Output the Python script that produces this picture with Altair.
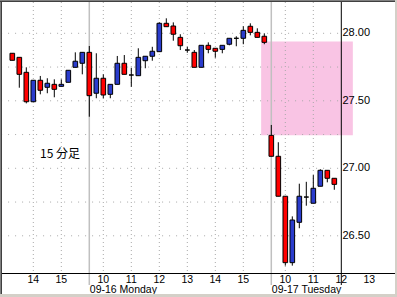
import altair as alt
import pandas as pd

# 15-minute candles (index 0..46)
opens  = [27.852, 27.822, 27.711, 27.493, 27.652, 27.600, 27.622, 27.607, 27.637, 27.748, 27.778,
          27.859, 27.556, 27.667, 27.548, 27.622, 27.778, 27.691, 27.686, 27.797, 27.830, 27.864,
          28.074, 28.054, 27.970, 27.876, 27.859, 27.748, 27.911, 27.889, 27.881, 27.919, 27.963,
          27.963, 28.052, 28.007, 27.978,
          27.244, 27.089, 26.793, 26.301, 26.600, 26.787, 26.741, 26.867, 26.985, 26.926]
highs  = [27.852, 27.822, 27.748, 27.652, 27.684, 27.667, 27.659, 27.659, 27.726, 27.859, 27.859,
          27.906, 27.852, 27.696, 27.622, 27.832, 27.839, 27.745, 27.889, 27.830, 27.900, 28.081,
          28.111, 28.081, 27.993, 27.900, 27.876, 27.911, 27.933, 27.889, 27.911, 27.963, 27.978,
          28.052, 28.074, 28.037, 28.000,
          27.321, 27.193, 26.793, 26.644, 26.886, 26.900, 26.950, 26.993, 26.985, 26.926]
lows   = [27.800, 27.597, 27.481, 27.493, 27.548, 27.556, 27.526, 27.607, 27.637, 27.748, 27.696,
          27.382, 27.519, 27.519, 27.519, 27.622, 27.696, 27.604, 27.686, 27.741, 27.797, 27.864,
          28.049, 27.945, 27.876, 27.856, 27.748, 27.748, 27.852, 27.819, 27.852, 27.911, 27.904,
          27.919, 27.985, 27.970, 27.919,
          27.089, 26.793, 26.279, 26.279, 26.556, 26.723, 26.741, 26.867, 26.896, 26.841]
closes = [27.800, 27.696, 27.493, 27.652, 27.578, 27.630, 27.585, 27.622, 27.726, 27.793, 27.859,
          27.538, 27.667, 27.543, 27.622, 27.778, 27.696, 27.691, 27.822, 27.830, 27.867, 28.074,
          28.049, 27.993, 27.908, 27.876, 27.748, 27.911, 27.881, 27.867, 27.911, 27.963, 27.963,
          28.022, 28.007, 27.970, 27.933,
          27.089, 26.793, 26.301, 26.617, 26.793, 26.787, 26.852, 26.985, 26.926, 26.881]

hour_labels = ["14", "15", "10", "11", "12", "13", "14", "15", "10", "11", "12", "13"]
hour_index = [3, 7, 13, 17, 21, 25, 29, 33, 39, 43, 47, 51]
date_labels = ["09-16 Monday", "09-17 Tuesday"]
date_index = [11, 37]
price_ticks = [26.50, 27.00, 27.50, 28.00]
grid_prices = [26.50, 26.75, 27.00, 27.25, 27.50, 27.75, 28.00]
gap_top = 27.94
gap_bottom = 27.245
gap_x = [35.55, 48.65]
axis_index = 47

W, H = 397, 297
xs = alt.Scale(domain=[-12.3 / 7, (W - 12.3) / 7], nice=False, zero=False)
ys = alt.Scale(domain=[28 - (H - 33.3) / 135.0, 28 + 33.3 / 135.0], nice=False, zero=False)

def direction(i):
    return "up" if closes[i] > opens[i] else ("down" if closes[i] < opens[i] else "flat")

candles = pd.DataFrame({
    "i": list(range(len(opens))),
    "o": opens, "h": highs, "l": lows, "c": closes,
})
candles["dir"] = [direction(i) for i in range(len(opens))]
candles["x0"] = candles["i"] - 0.33
candles["x1"] = candles["i"] + 0.33

X = lambda f: alt.X(f, type="quantitative", scale=xs, axis=None)
Y = lambda f: alt.Y(f, type="quantitative", scale=ys, axis=None)

bg = alt.Chart(pd.DataFrame({"a": [0]})).mark_rect(color="white").encode(
    x=alt.value(0), x2=alt.value(W), y=alt.value(0), y2=alt.value(H))

gap = alt.Chart(pd.DataFrame({"x0": [gap_x[0]], "x1": [gap_x[1]], "t": [gap_top], "b": [gap_bottom]})).mark_rect(
    color="#f9c4e4").encode(x=X("x0"), x2=alt.X2("x1"), y=Y("t"), y2=alt.Y2("b"))

hgrid = alt.Chart(pd.DataFrame({"p": grid_prices, "xa": [-1.6] * len(grid_prices),
                                "xb": [axis_index] * len(grid_prices)})).mark_rule(
    color="#a8a8a8", strokeDash=[1, 6], strokeWidth=1).encode(x=X("xa"), x2=alt.X2("xb"), y=Y("p"))

vg = [i for i in hour_index if i < axis_index]
vgrid = alt.Chart(pd.DataFrame({"i": vg})).mark_rule(
    color="#a8a8a8", strokeDash=[1, 3], strokeWidth=1).encode(x=X("i"), y=alt.value(2), y2=alt.value(273))

daysep = alt.Chart(pd.DataFrame({"i": date_index})).mark_rule(
    color="#c0c0c0", strokeWidth=1.5).encode(x=X("i"), y=alt.value(2), y2=alt.value(285))

paxis = alt.Chart(pd.DataFrame({"i": [axis_index]})).mark_rule(
    color="black", strokeWidth=1).encode(x=X("i"), y=alt.value(2), y2=alt.value(285))

xaxis = alt.Chart(pd.DataFrame({"a": [0]})).mark_rule(color="black", strokeWidth=1.2).encode(
    x=alt.value(2), x2=alt.value(395), y=alt.value(273.5))

wicks = alt.Chart(candles).mark_rule(color="black", strokeWidth=1).encode(
    x=X("i"), y=Y("l"), y2=alt.Y2("h"))

bodies = alt.Chart(candles).mark_rect(stroke="black", strokeWidth=1).encode(
    x=X("x0"), x2=alt.X2("x1"), y=Y("o"), y2=alt.Y2("c"),
    fill=alt.Fill("dir:N", scale=alt.Scale(domain=["up", "down", "flat"],
                                           range=["#2a3ccc", "#ff0000", "#000000"]), legend=None))

hours = alt.Chart(pd.DataFrame({"i": hour_index, "t": hour_labels})).mark_text(
    font="Liberation Sans", fontSize=10.5, align="center", baseline="alphabetic", color="black").encode(
    x=X("i"), y=alt.value(283), text="t:N")

dates = alt.Chart(pd.DataFrame({"i": date_index, "t": date_labels})).mark_text(
    font="Liberation Sans", fontSize=10.5, align="left", baseline="alphabetic", dx=0.5, color="black").encode(
    x=X("i"), y=alt.value(293), text="t:N")

prices = alt.Chart(pd.DataFrame({"p": price_ticks, "t": [f"{p:.2f}" for p in price_ticks]})).mark_text(
    font="Liberation Sans", fontSize=11, align="left", baseline="middle", color="black").encode(
    x=alt.value(342.5), y=Y("p"), text="t:N")

title = alt.Chart(pd.DataFrame({"t": ["15 分足"]})).mark_text(
    font="Noto Sans CJK JP", fontSize=12, align="left", baseline="alphabetic", color="black").encode(
    x=alt.value(40), y=alt.value(158), text="t:N")

frame = alt.Chart(pd.DataFrame({
    "x0": [0, 1, 0, 0, 0, 395],
    "x1": [1, 2, W, W, W, W],
    "y0": [0, 0, 0, 1, 294, 0],
    "y1": [H, H, 1, 2, H, H],
    "c": ["#808080", "#404040", "#808080", "#404040", "#d4d0c8", "#d4d0c8"],
})).mark_rect().encode(
    x=alt.X("x0:Q", scale=alt.Scale(domain=[0, W], range=[0, W], nice=False, zero=False), axis=None),
    x2="x1",
    y=alt.Y("y0:Q", scale=alt.Scale(domain=[0, H], range=[0, H], nice=False, zero=False), axis=None),
    y2="y1",
    fill=alt.Fill("c:N", scale=None))

main = alt.layer(bg, gap, hgrid, vgrid, daysep, paxis, xaxis, wicks, bodies, hours, dates, prices, title)
chart = alt.layer(main, frame).resolve_scale(x="independent", y="independent").properties(
    width=W, height=H, padding=0, autosize=alt.AutoSizeParams(type="none")
).configure_view(stroke=None)

chart.save("out.html", embed_options={"renderer": "svg", "actions": False})
